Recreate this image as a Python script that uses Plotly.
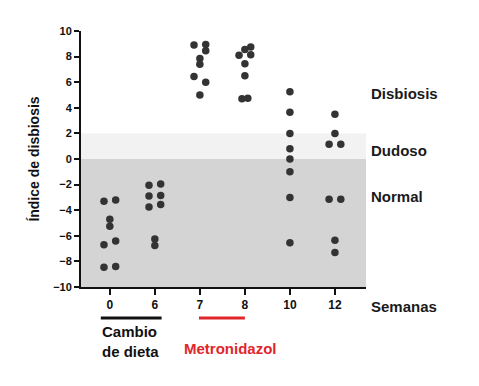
import plotly.graph_objects as go

weeks = ["0", "6", "7", "8", "10", "12"]
values = {
    "0": [-3.3, -3.2, -4.7, -5.25, -6.7, -6.4, -8.45, -8.4],
    "6": [-2.05, -1.95, -2.9, -2.85, -3.75, -3.55, -6.25, -6.75],
    "7": [8.9, 8.95, 8.45, 7.85, 7.4, 6.45, 6.0, 5.0],
    "8": [8.55, 8.75, 8.1, 8.15, 7.45, 6.5, 4.7, 4.75],
    "10": [5.25, 3.65, 2.0, 0.8, 0.0, -1.0, -3.0, -6.55],
    "12": [3.5, 2.0, 1.15, 1.15, -3.15, -3.15, -6.35, -7.3],
}
# beeswarm column of each point (-1 left, 0 centre, 1 right)
columns = {
    "0": [-1, 1, 0, 0, -1, 1, -1, 1],
    "6": [-1, 1, -1, 1, -1, 1, 0, 0],
    "7": [-1, 1, 1, 0, 0, -1, 1, 0],
    "8": [0, 1, -1, 1, 0, 0, -0.5, 0.5],
    "10": [0, 0, 0, 0, 0, 0, 0, 0],
    "12": [0, 0, -1, 1, -1, 1, 0, 0],
}
zone_names = ["Disbiosis", "Dudoso", "Normal"]
zone_label_at = [5.15, 0.7, -2.95]

xs, ys = [], []
for i, w in enumerate(weeks):
    for v, c in zip(values[w], columns[w]):
        xs.append(i + c * 0.13)
        ys.append(v)

fig = go.Figure()
fig.add_trace(go.Scatter(x=xs, y=ys, mode="markers",
                         marker=dict(size=7.5, color="#333333"),
                         showlegend=False, hoverinfo="skip"))

FONT = "Liberation Sans, Arial, sans-serif"
fig.add_shape(type="rect", xref="paper", yref="y", x0=0, x1=1, y0=-10, y1=0,
              fillcolor="#d4d4d4", line_width=0, layer="below")
fig.add_shape(type="rect", xref="paper", yref="y", x0=0, x1=1, y0=0, y1=2,
              fillcolor="#f2f2f2", line_width=0, layer="below")

for name, yv in zip(zone_names, zone_label_at):
    fig.add_annotation(x=1.01, xref="paper", y=yv, yref="y", text=name,
                       showarrow=False, xanchor="left", yanchor="middle",
                       font=dict(family=FONT, size=15, color="#1a1a1a", weight="bold"))

fig.add_annotation(x=1.01, xref="paper", y=-0.078, yref="paper", text="Semanas",
                   showarrow=False, xanchor="left", yanchor="middle",
                   font=dict(family=FONT, size=15, color="#1a1a1a", weight="bold"))

# treatment bars
fig.add_shape(type="line", xref="x", yref="paper", x0=-0.2, x1=1.15, y0=-0.121, y1=-0.121,
              line=dict(color="#111111", width=3))
fig.add_shape(type="line", xref="x", yref="paper", x0=1.98, x1=3.0, y0=-0.121, y1=-0.121,
              line=dict(color="#e0262b", width=3))
fig.add_annotation(x=-0.22, xref="x", y=-0.133, yref="paper", yanchor="top",
                   text="Cambio<br>de dieta", align="left", xanchor="left", showarrow=False,
                   font=dict(family=FONT, size=15, color="#111111", weight="bold"))
fig.add_annotation(x=2.67, xref="x", y=-0.242, yref="paper", yanchor="middle",
                   text="Metronidazol", xanchor="center", showarrow=False,
                   font=dict(family=FONT, size=15, color="#e0262b", weight="bold"))

fig.update_layout(
    width=471, height=378,
    margin=dict(l=73, r=113, t=23, b=99),
    paper_bgcolor="white", plot_bgcolor="white",
    xaxis=dict(range=[-0.64, 5.69], tickmode="array", tickvals=list(range(len(weeks))),
               ticktext=weeks, ticks="outside", ticklen=6, tickwidth=2, tickcolor="#111",
               showline=True, linecolor="#111", linewidth=2, showgrid=False, zeroline=False,
               automargin=False,
               tickfont=dict(family=FONT, size=12, color="#111", weight="bold")),
    yaxis=dict(range=[-10, 10], tickvals=list(range(-10, 11, 2)), ticks="outside",
               ticklen=5, tickwidth=2, tickcolor="#111", showline=True, linecolor="#111",
               linewidth=2, showgrid=False, zeroline=False, automargin=False,
               title=dict(text="Índice de disbiosis", standoff=10,
                          font=dict(family=FONT, size=14, color="#111", weight="bold")),
               tickfont=dict(family=FONT, size=11, color="#111", weight="bold")),
)
fig.write_html("out.html")
